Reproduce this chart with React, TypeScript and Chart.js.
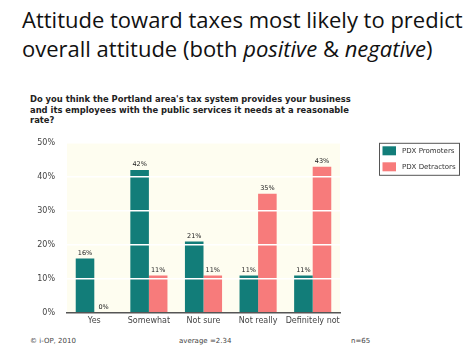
import React, { useEffect, useRef } from "react";
import { Chart, registerables } from "chart.js";

Chart.register(...registerables);

const categories = ["Yes", "Somewhat", "Not sure", "Not really", "Definitely not"];
const promoters = [16, 42, 21, 11, 11];
const detractors = [0, 11, 11, 35, 43];
const seriesNames = ["PDX Promoters", "PDX Detractors"];
const yTicks = [0, 10, 20, 30, 40, 50];

const TEAL = "#127d79";
const PINK = "#f77b7b";
const FONT = "'DejaVu Sans', Verdana, sans-serif";

const bgPlugin = {
  id: "plotBg",
  beforeDraw(chart: any) {
    const { ctx, chartArea } = chart;
    ctx.save();
    ctx.fillStyle = "#fefdf0";
    ctx.fillRect(chartArea.left, chartArea.top, chartArea.right - chartArea.left, chartArea.bottom - chartArea.top);
    ctx.restore();
  },
};

const labelPlugin = {
  id: "valueLabels",
  afterDraw(chart: any) {
    const { ctx } = chart;
    ctx.save();
    ctx.font = `6.5px ${FONT}`;
    ctx.fillStyle = "#222";
    ctx.textAlign = "center";
    ctx.textBaseline = "bottom";
    chart.data.datasets.forEach((ds: any, i: number) => {
      const meta = chart.getDatasetMeta(i);
      meta.data.forEach((el: any, j: number) => {
        ctx.fillText(`${ds.data[j]}%`, el.x, el.y - 2);
      });
    });
    ctx.restore();
  },
};

const legendPlugin = {
  id: "boxLegend",
  afterDraw(chart: any) {
    const { ctx, chartArea } = chart;
    const x = chartArea.right + 39;
    const y = chartArea.top;
    const w = 80;
    const h = 32;
    ctx.save();
    ctx.strokeStyle = "#555";
    ctx.lineWidth = 1;
    ctx.strokeRect(x + 0.5, y + 0.5, w, h);
    ctx.font = `7px ${FONT}`;
    ctx.textBaseline = "middle";
    ctx.textAlign = "left";
    chart.data.datasets.forEach((ds: any, i: number) => {
      const sy = y + 3.5 + i * 16;
      ctx.fillStyle = ds.backgroundColor;
      ctx.fillRect(x + 3.5, sy, 13.5, 9);
      ctx.fillStyle = "#333";
      ctx.fillText(ds.label, x + 23, sy + 4.5);
    });
    ctx.restore();
  },
};

export default function App() {
  const ref = useRef<HTMLCanvasElement>(null);

  useEffect(() => {
    if (!ref.current) return;
    const chart = new Chart(ref.current, {
      type: "bar",
      data: {
        labels: categories,
        datasets: [
          { label: seriesNames[0], data: promoters, backgroundColor: TEAL, borderWidth: 0 },
          { label: seriesNames[1], data: detractors, backgroundColor: PINK, borderWidth: 0 },
        ],
      },
      options: {
        responsive: false,
        animation: false,
        events: [],
        categoryPercentage: 0.68,
        barPercentage: 1.0,
        layout: { padding: { top: 4, right: 134, bottom: 0, left: 0 } },
        plugins: {
          legend: { display: false },
          title: { display: false },
          tooltip: { enabled: false },
        },
        scales: {
          x: {
            grid: { display: false, drawTicks: false },
            border: { display: true, color: "#555", width: 1.5, z: 2 },
            ticks: {
              color: "#444",
              font: { family: FONT, size: 8 },
              padding: 3,
              maxRotation: 0,
              autoSkip: false,
            },
            afterFit(scale: any) {
              scale.height = 17;
            },
          },
          y: {
            min: 0,
            max: 50,
            afterBuildTicks(scale: any) {
              scale.ticks = yTicks.map((v) => ({ value: v }));
            },
            grid: {
              z: 1,
              drawTicks: false,
              lineWidth: 1.5,
              color: (c: any) => (c.tick && c.tick.value === 0 ? "rgba(0,0,0,0)" : "#ffffff"),
            },
            border: { display: false },
            ticks: {
              color: "#444",
              font: { family: FONT, size: 8 },
              padding: 12,
              callback: (v: any) => `${v}%`,
            },
            afterFit(scale: any) {
              scale.width = 67;
            },
          },
        },
      },
      plugins: [bgPlugin, labelPlugin, legendPlugin],
    } as any);
    return () => chart.destroy();
  }, []);

  const small: React.CSSProperties = {
    position: "absolute",
    fontFamily: FONT,
    fontSize: 7,
    lineHeight: "9px",
    color: "#444",
    whiteSpace: "nowrap",
  };

  return (
    <div
      style={{
        position: "fixed",
        left: 0,
        top: 0,
        width: 474,
        height: 350,
        background: "#fff",
        overflow: "hidden",
      }}
    >
      <div
        style={{
          position: "absolute",
          left: 22,
          top: 5,
          fontFamily: "'Open Sans', sans-serif",
          fontSize: 22,
          lineHeight: "29px",
          color: "#111",
          whiteSpace: "nowrap",
        }}
      >
        Attitude toward taxes most likely to predict
        <br />
        overall attitude (both <i>positive</i> &amp; <i>negative</i>)
      </div>
      <div
        style={{
          position: "absolute",
          left: 30,
          top: 94,
          fontFamily: FONT,
          fontWeight: "bold",
          fontSize: 8.4,
          lineHeight: "10.5px",
          color: "#222",
          whiteSpace: "nowrap",
        }}
      >
        Do you think the Portland area's tax system provides your business
        <br />
        and its employees with the public services it needs at a reasonable
        <br />
        rate?
      </div>
      <canvas
        ref={ref}
        width={474}
        height={204}
        style={{ position: "absolute", left: 0, top: 126, width: 474, height: 204 }}
      />
      <div style={{ ...small, left: 30, top: 336.5 }}>© i-OP, 2010</div>
      <div style={{ ...small, left: 179, top: 336.5 }}>average =2.34</div>
      <div style={{ ...small, left: 351, top: 336.5 }}>n=65</div>
    </div>
  );
}
